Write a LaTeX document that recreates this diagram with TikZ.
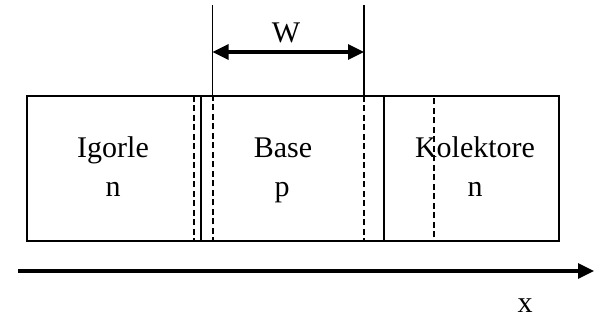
\documentclass[tikz,border=0pt]{standalone}
\usepackage{fontspec}
\setmainfont{Liberation Serif}
\usetikzlibrary{arrows.meta}
\begin{document}
\begin{tikzpicture}[x=1pt,y=-1pt,
  lbl/.style={font=\fontsize{30}{36}\selectfont, inner sep=0pt, anchor=base},
  regionbox/.style={draw, line width=2.4pt},
  junction/.style={draw, line width=2.6pt},
  dashbox/.style={draw, line width=2.4pt, dash pattern=on 6pt off 3.5pt},
  guide/.style={draw, line width=1.1pt},
  dimarrow/.style={draw, line width=3.2pt, {Triangle[length=16pt,width=15pt]}-{Triangle[length=16pt,width=15pt]}},
  axisarrow/.style={draw, line width=3.2pt, -{Triangle[length=16pt,width=15pt]}}]
\useasboundingbox (0,0) rectangle (594,320);
% main bar
\coordinate (tl) at (27,96);
\coordinate (br) at (559,241);
\draw[regionbox] (tl) rectangle (br);
% labels
\node[lbl] (em1) at (113,158) {Igorle};
\node[lbl] (em2) at (113,197) {n};
\node[lbl] (ba1) at (283,158) {Base};
\node[lbl] (ba2) at (282,197) {p};
\node[lbl] (co1) at (475,158) {Kolektore};
\node[lbl] (co2) at (475,197) {n};
% metallurgical junctions
\coordinate (j1t) at (201,96);
\coordinate (j1b) at (201,241);
\coordinate (j2t) at (384,96);
\coordinate (j2b) at (384,241);
\draw[junction] (j1t) -- (j1b);
\draw[junction] (j2t) -- (j2b);
% depletion regions
\coordinate (d1a) at (194,96);
\coordinate (d1b) at (213,241);
\coordinate (d2a) at (364,96);
\coordinate (d2b) at (434,241);
\draw[dashbox] (d1a) rectangle (d1b);
\draw[dashbox] (d2a) rectangle (d2b);
% W dimension
\coordinate (g1t) at (212.5,5);
\coordinate (g1b) at (212.5,96);
\coordinate (g2t) at (364,5);
\coordinate (g2b) at (364,96);
\draw[guide] (g1t) -- (g1b);
\draw[guide] (g2t) -- (g2b);
\coordinate (w1) at (212.5,52);
\coordinate (w2) at (364,52);
\draw[dimarrow] (w1) -- (w2);
\node[lbl] (wl) at (286,43) {W};
% x axis
\coordinate (ax0) at (18,271);
\coordinate (ax1) at (594,271);
\draw[axisarrow] (ax0) -- (ax1);
\node[lbl] (xl) at (525,312) {x};
\end{tikzpicture}
\end{document}
